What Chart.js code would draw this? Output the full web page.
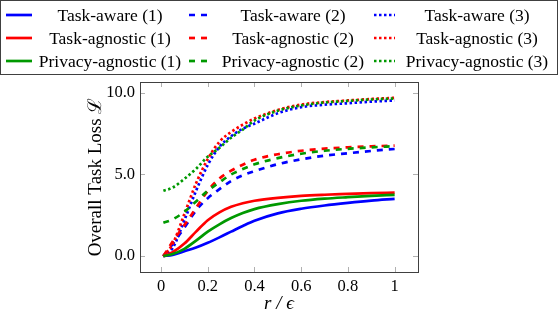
<!DOCTYPE html>
<html>
<head>
<meta charset="utf-8">
<script src="https://cdn.jsdelivr.net/npm/chart.js@4.4.0/dist/chart.umd.min.js"></script>
<style>
  body { margin: 0; background: #fff; }
  #wrap { width: 560px; height: 318px; }
</style>
</head>
<body>
<div id="wrap"><canvas id="chart"></canvas></div>
<script>
const xs = [0.01, 0.05, 0.1, 0.15, 0.2, 0.25, 0.3, 0.35, 0.4, 0.5, 0.6, 0.7, 0.8, 0.9, 1.0];

const awareSolid    = [0, 0.08, 0.30, 0.53, 0.82, 1.15, 1.50, 1.85, 2.17, 2.62, 2.90, 3.10, 3.26, 3.40, 3.51];
const awareDashed   = [0, 0.75, 1.75, 2.80, 3.55, 4.10, 4.60, 4.95, 5.20, 5.63, 5.93, 6.15, 6.30, 6.44, 6.56];
const awareDotted   = [0, 0.50, 2.20, 4.00, 5.58, 6.69, 7.34, 7.80, 8.11, 8.75, 9.12, 9.27, 9.36, 9.46, 9.53];
const agnosticSolid  = [0, 0.24, 0.77, 1.50, 2.20, 2.68, 3.02, 3.24, 3.39, 3.57, 3.69, 3.76, 3.81, 3.86, 3.89];
const agnosticDashed = [0, 0.90, 1.90, 2.95, 4.00, 4.75, 5.23, 5.60, 5.90, 6.24, 6.45, 6.58, 6.66, 6.72, 6.77];
const agnosticDotted = [0, 0.75, 2.58, 4.46, 5.94, 7.00, 7.60, 8.05, 8.42, 8.95, 9.28, 9.43, 9.53, 9.62, 9.69];
const privacySolid  = [0, 0.13, 0.45, 0.95, 1.50, 1.95, 2.33, 2.64, 2.88, 3.18, 3.39, 3.52, 3.61, 3.69, 3.75];
const privacyDashed = [2.04, 2.25, 2.72, 3.35, 4.00, 4.52, 5.00, 5.33, 5.62, 6.00, 6.27, 6.45, 6.57, 6.66, 6.73];
const privacyDotted = [4.00, 4.20, 4.73, 5.35, 6.09, 6.63, 7.25, 7.75, 8.30, 8.90, 9.22, 9.40, 9.50, 9.59, 9.65];

const xTicks = [0, 0.2, 0.4, 0.6, 0.8, 1];
const yTicks = [0, 5, 10];

const BLUE = '#0000ff', RED = '#ff0000', GREEN = '#009900';
const SERIF = '"Liberation Serif", "DejaVu Serif", serif';
const dashes = { solid: [], dashed: [6, 6], dotted: [2.5, 2.5] };
const sampleLen = { solid: 26, dashed: 20, dotted: 21 };

const series = [
  ['Task-aware (1)', awareSolid, BLUE, 'solid'],
  ['Task-aware (2)', awareDashed, BLUE, 'dashed'],
  ['Task-aware (3)', awareDotted, BLUE, 'dotted'],
  ['Task-agnostic (1)', agnosticSolid, RED, 'solid'],
  ['Task-agnostic (2)', agnosticDashed, RED, 'dashed'],
  ['Task-agnostic (3)', agnosticDotted, RED, 'dotted'],
  ['Privacy-agnostic (1)', privacySolid, GREEN, 'solid'],
  ['Privacy-agnostic (2)', privacyDashed, GREEN, 'dashed'],
  ['Privacy-agnostic (3)', privacyDotted, GREEN, 'dotted']
];

const datasets = series.map(([label, ys, color, style], i) => ({
  label,
  data: xs.map((x, k) => ({ x, y: ys[k] })),
  borderColor: color,
  backgroundColor: color,
  borderWidth: 2.7,
  borderDash: dashes[style],
  pointRadius: 0,
  cubicInterpolationMode: 'monotone',
  order: series.length - i,
  lineStyle: style
}));

// frame, inner tick marks and the 3x3 legend
const framePlugin = {
  id: 'frame',
  afterDraw(chart) {
    const ctx = chart.ctx;
    const a = chart.chartArea;
    const sx = chart.scales.x, sy = chart.scales.y;
    ctx.save();
    ctx.strokeStyle = '#b0b0b0';
    ctx.lineWidth = 1;
    ctx.beginPath();
    xTicks.forEach(v => {
      const p = Math.round(sx.getPixelForValue(v)) + 0.5;
      ctx.moveTo(p, a.bottom); ctx.lineTo(p, a.bottom - 5);
      ctx.moveTo(p, a.top); ctx.lineTo(p, a.top + 5);
    });
    yTicks.forEach(v => {
      const p = Math.round(sy.getPixelForValue(v)) + 0.5;
      ctx.moveTo(a.left, p); ctx.lineTo(a.left + 5, p);
      ctx.moveTo(a.right, p); ctx.lineTo(a.right - 5, p);
    });
    ctx.stroke();
    ctx.strokeStyle = '#404040';
    ctx.strokeRect(Math.round(a.left) + 0.5, Math.round(a.top) + 0.5,
                   Math.round(a.right - a.left), Math.round(a.bottom - a.top));

    // legend
    ctx.strokeStyle = '#404040';
    ctx.strokeRect(0.5, 0.5, 557, 74);
    const rowY = [15, 38, 61];
    const sampleX = [6, 189, 374];
    const textX = [110, 293, 477];
    ctx.font = '17.5px ' + SERIF;
    ctx.textAlign = 'center';
    ctx.textBaseline = 'middle';
    chart.data.datasets.forEach((ds, i) => {
      const r = Math.floor(i / 3), c = i % 3;
      ctx.strokeStyle = ds.borderColor;
      ctx.lineWidth = 2.7;
      ctx.setLineDash(ds.borderDash);
      ctx.beginPath();
      ctx.moveTo(sampleX[c], rowY[r]);
      ctx.lineTo(sampleX[c] + sampleLen[ds.lineStyle], rowY[r]);
      ctx.stroke();
      ctx.setLineDash([]);
      ctx.fillStyle = '#000';
      ctx.fillText(ds.label, textX[c], rowY[r] + 1);
    });
    ctx.restore();
  }
};

new Chart(document.getElementById('chart'), {
  type: 'line',
  data: { datasets },
  options: {
    responsive: true,
    maintainAspectRatio: false,
    animation: false,
    events: [],
    layout: { padding: { top: 82, right: 142, bottom: 1, left: 81 } },
    plugins: { legend: { display: false }, tooltip: { enabled: false } },
    scales: {
      x: {
        type: 'linear',
        min: -0.09,
        max: 1.1,
        grid: { display: false, drawTicks: false },
        border: { display: false },
        afterBuildTicks: s => { s.ticks = xTicks.map(v => ({ value: v })); },
        afterFit: s => { s.height = 45; },
        ticks: {
          padding: 5,
          color: '#000',
          font: { family: SERIF, size: 16.5 },
          callback: v => (v === 0 || v === 1) ? String(v) : v.toFixed(1)
        },
        title: {
          display: true,
          text: 'r / ϵ',
          color: '#000',
          padding: { top: 0, bottom: 2 },
          font: { family: SERIF, size: 19, style: 'italic' }
        }
      },
      y: {
        type: 'linear',
        min: -0.97,
        max: 10.66,
        grid: { display: false, drawTicks: false },
        border: { display: false },
        afterBuildTicks: s => { s.ticks = yTicks.map(v => ({ value: v })); },
        afterFit: s => { s.width = 59; },
        ticks: {
          padding: 5,
          color: '#000',
          font: { family: SERIF, size: 16.5 },
          callback: v => v.toFixed(1)
        },
        title: {
          display: true,
          text: 'Overall Task Loss ℒ',
          color: '#000',
          padding: { top: 4, bottom: 0 },
          font: { family: SERIF, size: 19 }
        }
      }
    }
  },
  plugins: [framePlugin]
});
</script>
</body>
</html>
